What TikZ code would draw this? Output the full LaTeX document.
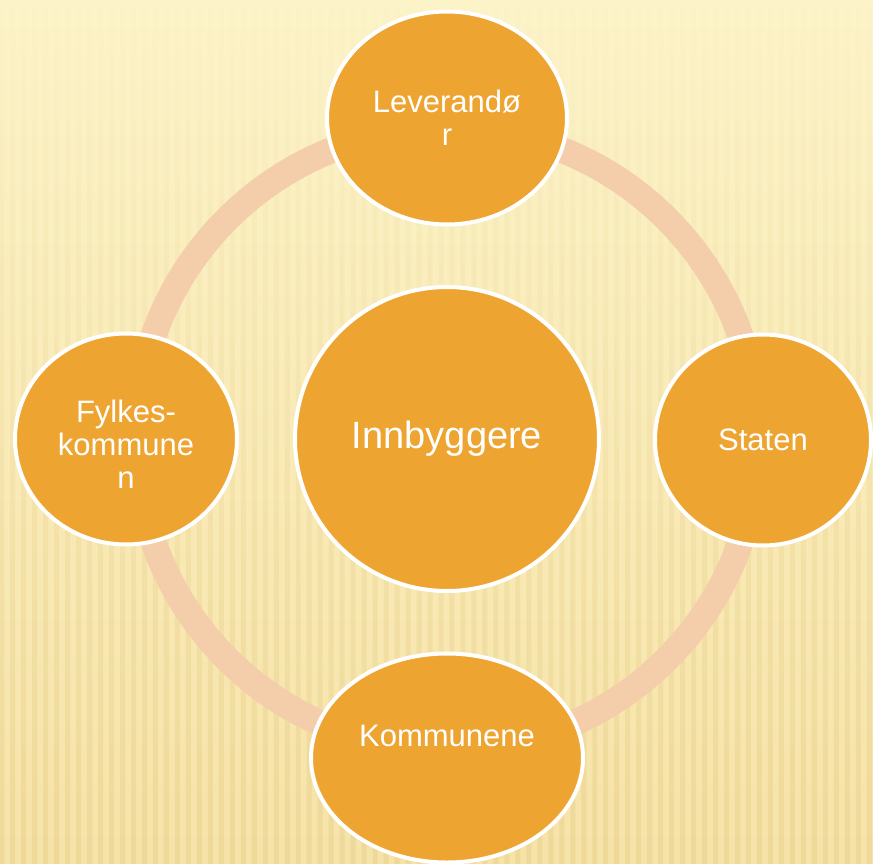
\documentclass[tikz,border=0pt]{standalone}
\usepackage{fontspec}
\setmainfont{Liberation Sans}
\usepackage{tikz}
\usetikzlibrary{shapes.geometric,fadings}
\definecolor{bgtop}{HTML}{FCF3C8}
\definecolor{bgbot}{HTML}{F6E3A8}
\definecolor{stripe}{HTML}{E2C77E}
\definecolor{ringc}{HTML}{F4CDAB}
\definecolor{orangec}{HTML}{EEA430}
\tikzset{%
    actor/.style={ellipse, fill=orangec, draw=white, line width=4pt,
      text=white, align=center, inner sep=0pt,
      font=\fontsize{31}{33}\selectfont},
    ring/.style={draw=ringc, line width=26pt}
}

\begin{document}
\begin{tikzpicture}[x=1pt, y=-1pt]
  % background
  \useasboundingbox (0,0) rectangle (873,864);
  \shade[top color=bgtop, bottom color=bgbot] (0,0) rectangle (873,864);
  \fill[stripe, opacity=0.35, path fading=north]
    \foreach \x in {0,11,...,873} {(\x,0) rectangle ++(5,864)};

  % the ring behind everything
  \coordinate (mid) at (447,439);
  \draw[ring] (mid) circle[radius=311];

  \node[actor, circle, minimum size=304pt, font=\fontsize{38}{44}\selectfont] (inn) at (mid) {Innbyggere};

  \node[actor, minimum width=240pt, minimum height=213pt] (lev) at (447,118) {Leverand\o\\r};
  \node[actor, minimum width=222pt, minimum height=211pt] (fyl) at (126,439) {};
  \node[text=white, align=center, font=\fontsize{31}{33}\selectfont] (fyltxt) at (126,444) {Fylkes-\\kommune\\n};
  \node[actor, minimum width=216pt, minimum height=211pt] (sta) at (763,440) {Staten};
  \node[actor, minimum width=272pt, minimum height=209pt] (kom) at (447,758) {};
  \node[text=white, font=\fontsize{31}{33}\selectfont] (komtxt) at (447,736) {Kommunene};
\end{tikzpicture}
\end{document}
